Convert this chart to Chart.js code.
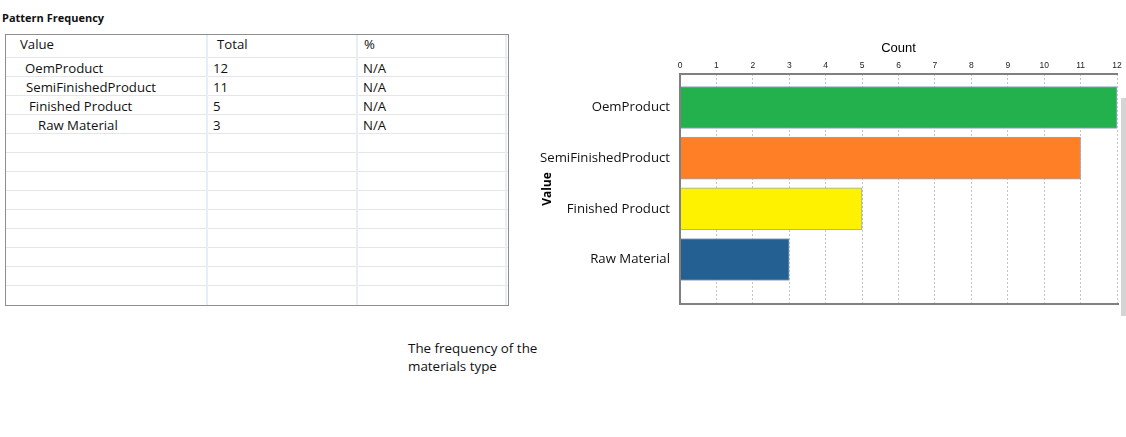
<!DOCTYPE html>
<html>
<head>
<meta charset="utf-8">
<script src="https://cdn.jsdelivr.net/npm/chart.js@4.4.1/dist/chart.umd.min.js"></script>
<style>
  html, body { margin: 0; padding: 0; background: #fff; width: 1126px; height: 437px; overflow: hidden; }
  body { position: relative; font-family: "Open Sans", "Noto Sans", sans-serif; color: #111; }
  .abs { position: absolute; }
  #title { left: 2px; top: 10px; font-size: 11px; font-weight: 700; white-space: nowrap; }
  #box { left: 5px; top: 34px; width: 502px; height: 270px; border: 1px solid #8e8e8e; }
  .hl { height: 1px; background: #e6e6e6; }
  .vl { width: 2px; background: #e8eef7; }
  .cell { font-size: 13.2px; line-height: 19px; white-space: nowrap; color: #111; }
  #caption { left: 408px; top: 339px; font-size: 13.4px; line-height: 18px; color: #111; white-space: nowrap; }
  #chartWrap { left: 530px; top: 38px; width: 596px; height: 280px; }
  #scrollbar { left: 1121px; top: 98px; width: 5px; height: 218px; background: #d4d4d4; }
</style>
</head>
<body>
<div id="title" class="abs">Pattern Frequency</div>
<div id="box" class="abs"></div>
<div id="table"></div>
<div id="caption" class="abs">The frequency of the<br>materials type</div>
<div id="scrollbar" class="abs"></div>
<div id="chartWrap" class="abs"><canvas id="c"></canvas></div>
<script>
// ---- data ----
const categories = ["OemProduct", "SemiFinishedProduct", "Finished Product", "Raw Material"];
const counts = [12, 11, 5, 3];
const percents = ["N/A", "N/A", "N/A", "N/A"];
const tableHeaders = ["Value", "Total", "%"];
const xTickValues = [0, 1, 2, 3, 4, 5, 6, 7, 8, 9, 10, 11, 12];
const barColors = ["#22b14c", "#ff7f27", "#fff200", "#246192"];

// ---- table (HTML) ----
(function buildTable() {
  const host = document.getElementById('table');
  const add = (cls, css, text) => {
    const d = document.createElement('div');
    d.className = 'abs ' + cls;
    Object.assign(d.style, css);
    if (text !== undefined) d.textContent = text;
    host.appendChild(d);
  };
  for (let y = 57; y <= 286; y += 19) add('hl', { left: '6px', top: y + 'px', width: '502px' });
  [206, 356, 505].forEach(x => add('vl', { left: x + 'px', top: '35px', height: '270px' }));
  const hx = [20, 217, 364];
  tableHeaders.forEach((h, i) => add('cell', { left: hx[i] + 'px', top: '35px' }, h));
  const indent = [25, 26, 29, 38];
  categories.forEach((c, i) => {
    const top = 58 + i * 19 + 1;
    add('cell', { left: indent[i] + 'px', top: top + 'px' }, c);
    add('cell', { left: '213px', top: top + 'px' }, String(counts[i]));
    add('cell', { left: '363px', top: top + 'px' }, percents[i]);
  });
})();

// frame lines around the plot area (top, left, bottom)
const frame = {
  id: 'frame',
  afterDatasetsDraw(chart) {
    const { ctx, chartArea: a } = chart;
    ctx.save();
    ctx.strokeStyle = '#808080';
    ctx.lineWidth = 2;
    ctx.beginPath();
    ctx.moveTo(a.right + 1, a.top);
    ctx.lineTo(a.left, a.top);
    ctx.lineTo(a.left, a.bottom);
    ctx.lineTo(a.right + 2, a.bottom);
    ctx.stroke();
    ctx.restore();
  }
};

// ---- chart ----
const ctx = document.getElementById('c');
new Chart(ctx, {
  type: 'bar',
  data: {
    datasets: [{
      data: counts.map((v, i) => ({ x: v, y: i })),
      backgroundColor: barColors,
      borderColor: '#8ea6c6',
      borderWidth: 1,
      barThickness: 42
    }]
  },
  plugins: [frame],
  options: {
    indexAxis: 'y',
    responsive: true,
    maintainAspectRatio: false,
    animation: false,
    layout: { padding: { left: 10, right: 9, top: 0, bottom: 14 } },
    plugins: { legend: { display: false }, tooltip: { enabled: false } },
    scales: {
      x: {
        type: 'linear',
        position: 'top',
        min: 0, max: 12,
        offset: false,
        afterBuildTicks: s => { s.ticks = xTickValues.map(v => ({ value: v })); },
        afterFit: s => { s.height = 36; s.paddingLeft = 0; s.paddingRight = 0; },
        ticks: { font: { family: 'Liberation Sans', size: 8.5 }, color: '#222', padding: 3, maxRotation: 0 },
        grid: { color: '#c4c4c4', lineWidth: 1, drawTicks: false },
        border: { display: false, dash: [2, 2] },
        title: { display: true, text: 'Count', font: { family: 'Liberation Sans', size: 13 }, color: '#000', padding: { top: 3, bottom: 0 } }
      },
      y: {
        type: 'linear',
        reverse: true,
        offset: false,
        min: -0.661, max: 3.878,
        afterBuildTicks: s => { s.ticks = categories.map((_, i) => ({ value: i })); },
        afterFit: s => { s.width = 140; s.paddingTop = 0; s.paddingBottom = 0; },
        ticks: {
          callback: v => categories[v],
          font: { family: 'Open Sans', size: 13.2 },
          color: '#111',
          padding: 10
        },
        grid: { display: false, drawTicks: false, offset: false },
        border: { display: false },
        title: { display: true, text: 'Value', font: { family: 'Open Sans', size: 12, weight: 'bold' }, color: '#000', padding: 0 }
      }
    }
  }
});
</script>
</body>
</html>
